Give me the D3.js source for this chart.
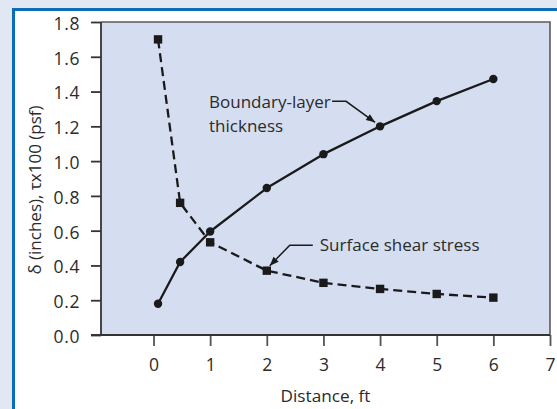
<!DOCTYPE html>
<html><head><meta charset="utf-8">
<script src="https://cdn.jsdelivr.net/npm/d3@7"></script>
<style>body{margin:0;background:#e1e8f4;} svg{display:block;} text{font-family:"Open Sans",sans-serif;fill:#2b2b2b;}</style>
</head><body>
<svg id="c" width="557" height="409"></svg>
<script>
const distance = [0.08, 0.47, 1, 2, 3, 4, 5, 6];
const thickness = [0.18, 0.42, 0.595, 0.845, 1.04, 1.20, 1.345, 1.472];
const shear = [1.70, 0.76, 0.533, 0.37, 0.30, 0.265, 0.236, 0.215];
const xTicks = [0, 1, 2, 3, 4, 5, 6, 7];
const yTicks = [0, 0.2, 0.4, 0.6, 0.8, 1.0, 1.2, 1.4, 1.6, 1.8];
const xTitle = "Distance, ft";
const yTitle = "δ (inches), τx100 (psf)";
const FONT = "Open Sans";

const svg = d3.select("#c");
svg.append("rect").attr("width",557).attr("height",409).attr("fill","#e1e8f4");
svg.append("rect").attr("x",15).attr("y",11).attr("width",542).attr("height",398).attr("fill","#fff");
svg.append("rect").attr("x",12).attr("y",8).attr("width",545).attr("height",3).attr("fill","#0b6db8");
svg.append("rect").attr("x",12).attr("y",8).attr("width",3).attr("height",401).attr("fill","#0b6db8");

const L=101, R=550, T=22, B=335;
const x = d3.scaleLinear().domain([-0.927, 7]).range([L, R]);
const y = d3.scaleLinear().domain([0, 1.8]).range([B, T]);

svg.append("rect").attr("x",L).attr("y",T).attr("width",R-L).attr("height",B-T).attr("fill","#d5def0");
svg.append("path").attr("d",`M${L},${T}H${R}V${B}`).attr("fill","none").attr("stroke","#5a5a5a").attr("stroke-width",1.6);

// y axis
const ya = svg.append("g").attr("transform",`translate(${L},0)`)
  .call(d3.axisLeft(y).tickValues(yTicks).tickFormat(d3.format(".1f")).tickSize(10).tickPadding(11));
ya.select(".domain").remove();
ya.append("line").attr("x1",0).attr("x2",0).attr("y1",T).attr("y2",B).attr("stroke","#333").attr("stroke-width",1.8);
ya.selectAll(".tick line").attr("stroke","#333").attr("stroke-width",1.8);
ya.selectAll(".tick text").attr("font-size",17.5).attr("font-family",FONT).attr("fill","#2b2b2b").attr("dy","0.42em").attr("letter-spacing",0.6);

// x axis
const xa = svg.append("g").attr("transform",`translate(0,${B})`)
  .call(d3.axisBottom(x).tickValues(xTicks).tickFormat(d3.format("d")).tickSize(11).tickPadding(0));
xa.select(".domain").remove();
xa.append("line").attr("x1",L-10).attr("x2",R).attr("y1",0).attr("y2",0).attr("stroke","#333").attr("stroke-width",1.8);
xa.selectAll(".tick line").attr("stroke","#555").attr("stroke-width",1.8);
xa.selectAll(".tick text").attr("font-size",17.5).attr("font-family",FONT).attr("fill","#2b2b2b").attr("y",36).attr("dy",0);

svg.append("text").attr("x",(L+R)/2).attr("y",402).attr("text-anchor","middle").attr("font-size",17.2).text(xTitle);
svg.append("text").attr("transform",`translate(41,190) rotate(-90)`).attr("text-anchor","middle").attr("font-size",17).text(yTitle);

// lines
const lineT = d3.line().x((d,i)=>x(distance[i])).y(d=>y(d)).curve(d3.curveLinear);
svg.append("path").attr("d",lineT(thickness)).attr("fill","none").attr("stroke","#1a1a1a").attr("stroke-width",2.3).attr("stroke-linejoin","round");
svg.append("path").attr("d",lineT(shear)).attr("fill","none").attr("stroke","#1a1a1a").attr("stroke-width",2.3).attr("stroke-dasharray","9,5");

svg.selectAll("circle.pt").data(thickness).join("circle").attr("class","pt")
  .attr("cx",(d,i)=>x(distance[i])).attr("cy",d=>y(d)).attr("r",4.2).attr("fill","#1a1a1a");
svg.selectAll("rect.sq").data(shear).join("rect").attr("class","sq")
  .attr("x",(d,i)=>x(distance[i])-4.2).attr("y",d=>y(d)-4.2).attr("width",8.4).attr("height",8.4).attr("fill","#1a1a1a");

// annotations (offsets relative to target data points)
function arrow(pts){
  svg.append("path").attr("d",d3.line()(pts)).attr("fill","none").attr("stroke","#1a1a1a").attr("stroke-width",1.5);
  const [a,b]=[pts[pts.length-2],pts[pts.length-1]];
  const ang=Math.atan2(b[1]-a[1],b[0]-a[0]);
  const len=9, w=3.6;
  const p1=[b[0]-len*Math.cos(ang)+w*Math.sin(ang), b[1]-len*Math.sin(ang)-w*Math.cos(ang)];
  const p2=[b[0]-len*Math.cos(ang)-w*Math.sin(ang), b[1]-len*Math.sin(ang)+w*Math.cos(ang)];
  svg.append("path").attr("d",`M${b[0]},${b[1]}L${p1[0]},${p1[1]}L${p2[0]},${p2[1]}Z`).attr("fill","#1a1a1a");
}
const bx=x(distance[5]), by=y(thickness[5]);
svg.append("text").attr("x",bx-171).attr("y",by-18.5).attr("font-size",17).text("Boundary-layer");
svg.append("text").attr("x",bx-171).attr("y",by+6).attr("font-size",17).text("thickness");
arrow([[bx-48,by-25],[bx-34,by-25],[bx-5,by-4]]);

const sx=x(distance[3]), sy=y(shear[3]);
svg.append("text").attr("x",sx+53).attr("y",sy-20).attr("font-size",17).text("Surface shear stress");
arrow([[sx+46,sy-25.5],[sx+23,sy-25.5],[sx+3,sy-5]]);
</script>
</body></html>
